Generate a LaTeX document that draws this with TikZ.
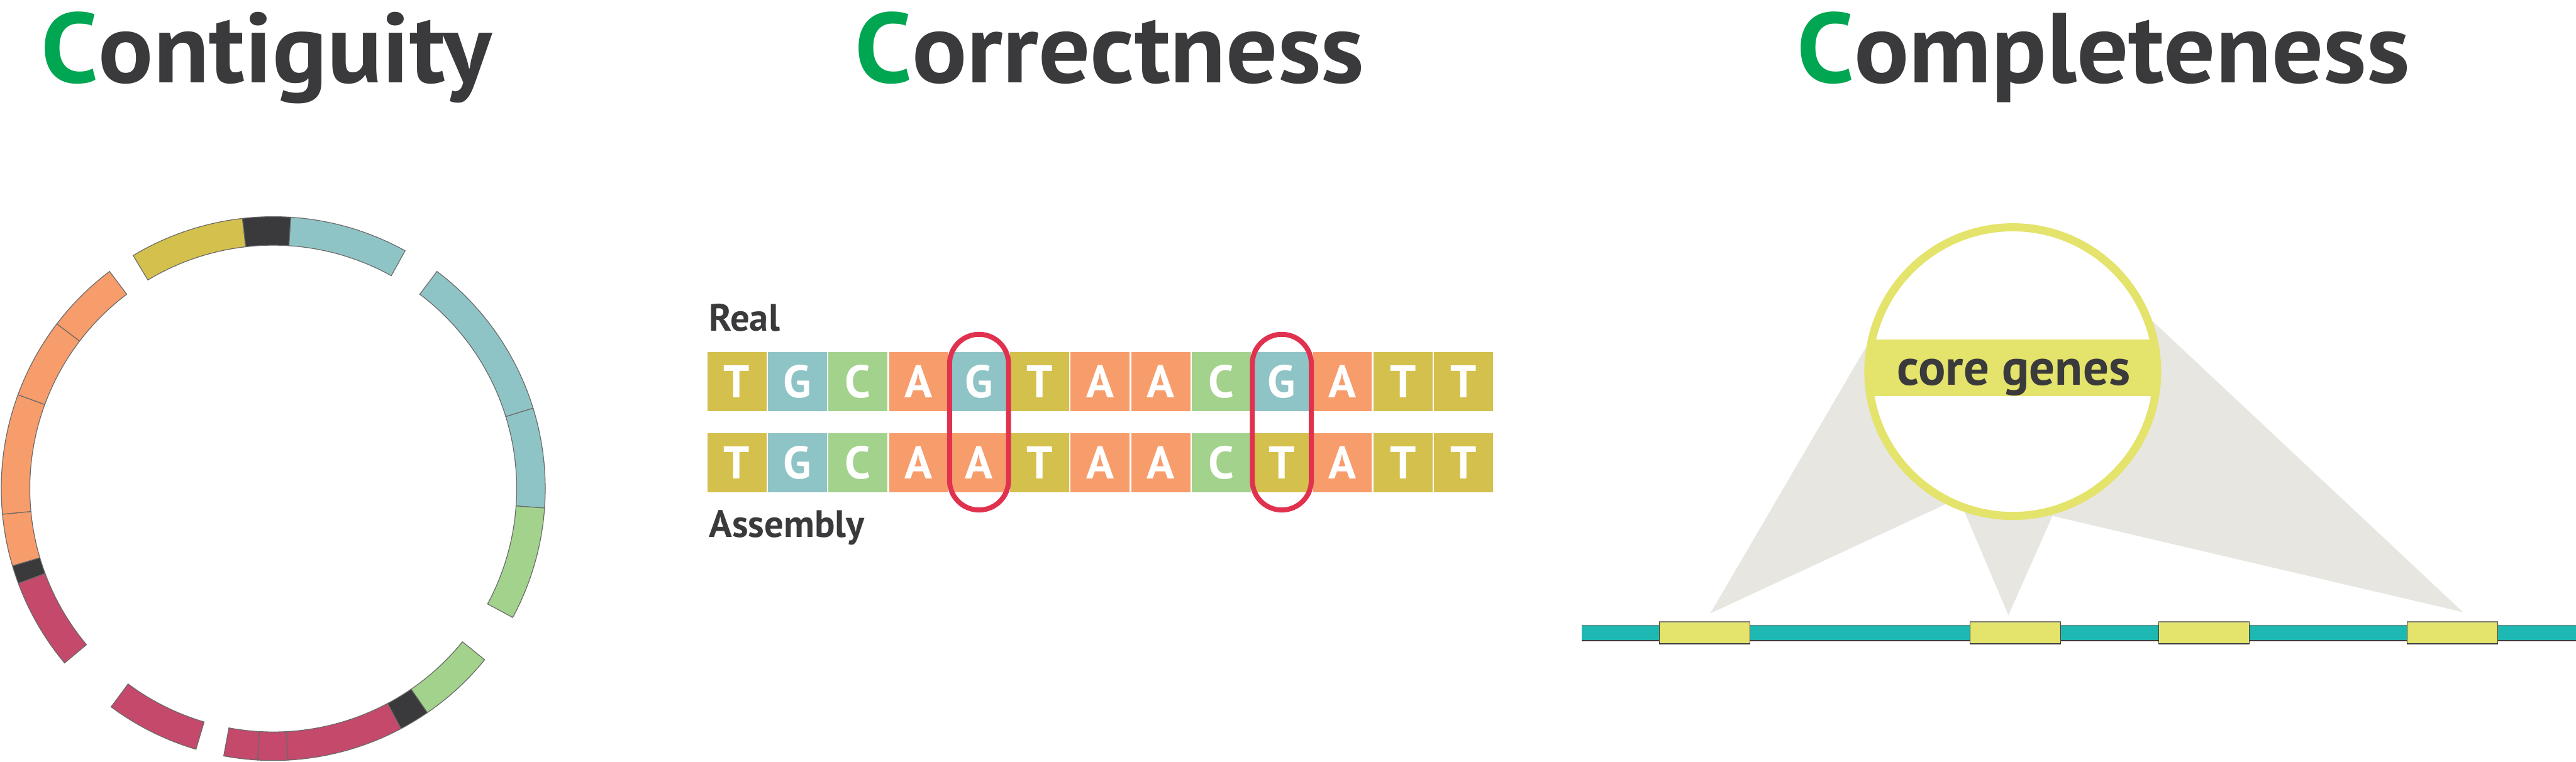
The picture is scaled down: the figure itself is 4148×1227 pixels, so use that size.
\documentclass[tikz,border=0pt]{standalone}
\usepackage{fontspec}
\setmainfont{PT Sans}
\newfontfamily\headfont{PT Sans}[FakeStretch=1.03]
\usetikzlibrary{calc}

\definecolor{ink}{HTML}{3A3A3C}
\definecolor{cgreen}{HTML}{00A651}
\definecolor{baseT}{HTML}{D4C04C}
\definecolor{baseG}{HTML}{8FC4C6}
\definecolor{baseC}{HTML}{A2D28C}
\definecolor{baseA}{HTML}{F79C6B}
\definecolor{baseM}{HTML}{C4496B}
\definecolor{mmred}{HTML}{E0324E}
\definecolor{geneyel}{HTML}{E4E36B}
\definecolor{lineteal}{HTML}{1EB8B3}
\definecolor{wedgegrey}{HTML}{E7E6E1}
\definecolor{segline}{HTML}{6A6A6A}

\begin{document}
\begin{tikzpicture}[x=0.1mm,y=-0.1mm,
  title/.style={anchor=base west,inner sep=0,text=ink,font=\headfont\fontsize{45.5}{46}\selectfont\bfseries},
  basebox/.style={minimum size=9.5mm,inner sep=0,text=white,font=\fontsize{21}{21}\selectfont\bfseries},
  rowlabel/.style={anchor=base west,inner sep=0,text=ink,font=\fontsize{17.5}{18}\selectfont\bfseries},
  mismatch/.style={draw=mmred,line width=2.3pt,rounded corners=4.75mm,minimum width=9.5mm,minimum height=28.3mm,inner sep=0},
  segment/.style={draw=segline,line width=0.35pt},
  gene/.style={fill=geneyel,draw=ink,line width=0.35pt,minimum width=14.6mm,minimum height=3.5mm,inner sep=0},
  wedge/.style={fill=wedgegrey}]
  \useasboundingbox (0,0) rectangle (4148,1227);

  \node[title] (tcont) at (66,133) {\textcolor{cgreen}{C}ontiguity};
  \node[title] (tcorr) at (1376,133) {\textcolor{cgreen}{C}orrectness};
  \node[title] (tcomp) at (2893,133) {\textcolor{cgreen}{C}ompleteness};

  % contigs round the genome
  \begin{scope}[shift={(440,787)},yscale=-1]
    \foreach \a/\b/\c in {96.5/121/baseT, 86.3/96.5/ink, 61/86.3/baseG,
        17.2/53/baseG, -4.1/17.2/baseG, -28.3/-4.1/baseC,
        -55.5/-39/baseC, -62/-55.5/ink, -86.9/-62/baseM, -93.3/-86.9/baseM, -100.5/-93.3/baseM,
        233.4/253.5/baseM,
        200.4/219.9/baseM, 196.5/200.4/ink, 185.4/196.5/baseA, 159.8/185.4/baseA,
        142.7/159.8/baseA, 127/142.7/baseA}
      \filldraw[segment,fill=\c] (\a:438) arc[start angle=\a,end angle=\b,radius=438]
        -- (\b:392) arc[start angle=\b,end angle=\a,radius=392] -- cycle;
  \end{scope}

  % real and assembled sequence
  \node[rowlabel] (real) at (1141,533) {Real};
  \node[rowlabel] (asm) at (1141,865) {Assembly};
  \foreach \b [count=\i] in {T,G,C,A,G,T,A,A,C,G,A,T,T}
    \node[basebox,fill=base\b] (r\i) at ({1186.5+(\i-1)*97.5},614.5) {\b};
  \foreach \b [count=\i] in {T,G,C,A,A,T,A,A,C,T,A,T,T}
    \node[basebox,fill=base\b] (a\i) at ({1186.5+(\i-1)*97.5},745.5) {\b};
  \node[mismatch] (m1) at ($(r5)!0.5!(a5)$) {};
  \node[mismatch] (m2) at ($(r10)!0.5!(a10)$) {};

  % genome with core genes
  \coordinate (hub) at (3241,598.6);
  \fill[wedge] (2754,988) -- (3004,560) -- (hub) -- (3131,813) -- cycle;
  \fill[wedge] (3234,991) -- (3164,826) -- (hub) -- (3305,831) -- cycle;
  \fill[wedge] (3966,986) -- (3305,831) -- (hub) -- (3467,518) -- cycle;
  \fill[lineteal] (2547,1007) rectangle (4148,1032);
  \draw[gray,line width=0.4pt] (2547,1007) -- (4148,1007);
  \draw[ink,line width=0.35pt] (2547,1032) -- (4148,1032);
  \foreach \x [count=\i] in {2672,3172,3476,3876} {
    \node[gene] (g\i) at ({\x+73},1019.5) {};
    \draw[gray,line width=0.6pt] (g\i.north west) -- (g\i.north east);
  }
  \fill[white] (hub) circle (232.5);
  \begin{scope}
    \clip (hub) circle (232.5);
    \fill[geneyel] (3000,547) rectangle (3490,638);
  \end{scope}
  \draw[geneyel,line width=3.7pt] (hub) circle (232.5);
  \node[anchor=base,inner sep=0,text=ink,font=\fontsize{23.3}{24}\selectfont\bfseries] (core) at (3242.5,620) {core genes};
\end{tikzpicture}
\end{document}
